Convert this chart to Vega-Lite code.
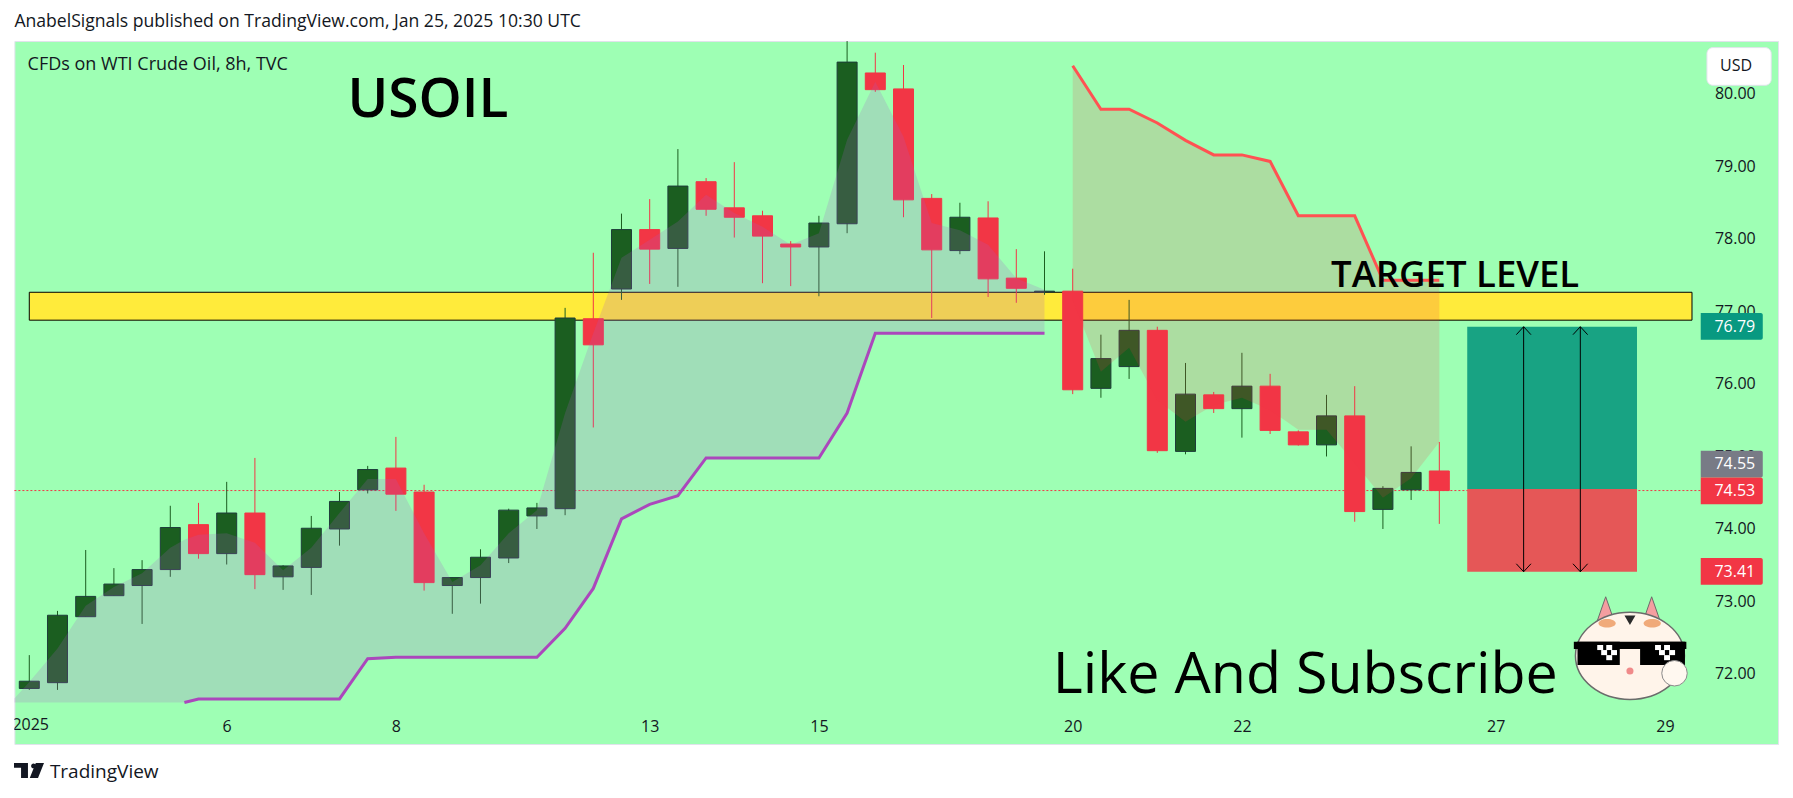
{
  "$schema": "https://vega.github.io/schema/vega-lite/v6.json",
  "title": {
    "text": "AnabelSignals published on TradingView.com, Jan 25, 2025 10:30 UTC",
    "anchor": "start", "frame": "group", "offset": 10,
    "fontSize": 17.6, "fontWeight": "normal", "color": "#131722", "font": "Open Sans"
  },
  "autosize": "none",
  "padding": {"left": 14.4, "top": 41, "right": 15, "bottom": 54},
  "width": 1763.6,
  "height": 703,
  "background": "#ffffff",
  "view": {"fill": "#9effb4", "stroke": "#e0e3eb"},
  "config": {"font": "Open Sans"},
  "datasets": {
    "candles": [
      {"i":0,"open":71.80,"close":71.90,"high":72.26,"low":71.78,"dir":"up"},
      {"i":1,"open":71.88,"close":72.81,"high":72.87,"low":71.78,"dir":"up"},
      {"i":2,"open":72.79,"close":73.07,"high":73.71,"low":72.79,"dir":"up"},
      {"i":3,"open":73.08,"close":73.24,"high":73.46,"low":73.08,"dir":"up"},
      {"i":4,"open":73.22,"close":73.44,"high":73.57,"low":72.69,"dir":"up"},
      {"i":5,"open":73.44,"close":74.02,"high":74.32,"low":73.34,"dir":"up"},
      {"i":6,"open":74.06,"close":73.66,"high":74.36,"low":73.59,"dir":"down"},
      {"i":7,"open":73.66,"close":74.22,"high":74.65,"low":73.51,"dir":"up"},
      {"i":8,"open":74.22,"close":73.37,"high":74.98,"low":73.17,"dir":"down"},
      {"i":9,"open":73.34,"close":73.49,"high":73.50,"low":73.16,"dir":"up"},
      {"i":10,"open":73.47,"close":74.01,"high":74.18,"low":73.09,"dir":"up"},
      {"i":11,"open":74.00,"close":74.38,"high":74.51,"low":73.77,"dir":"up"},
      {"i":12,"open":74.54,"close":74.82,"high":74.87,"low":74.49,"dir":"up"},
      {"i":13,"open":74.84,"close":74.48,"high":75.27,"low":74.25,"dir":"down"},
      {"i":14,"open":74.51,"close":73.26,"high":74.61,"low":73.15,"dir":"down"},
      {"i":15,"open":73.22,"close":73.33,"high":73.33,"low":72.83,"dir":"up"},
      {"i":16,"open":73.33,"close":73.61,"high":73.72,"low":72.97,"dir":"up"},
      {"i":17,"open":73.60,"close":74.26,"high":74.28,"low":73.53,"dir":"up"},
      {"i":18,"open":74.18,"close":74.29,"high":74.36,"low":74.00,"dir":"up"},
      {"i":19,"open":74.28,"close":76.91,"high":77.05,"low":74.19,"dir":"up"},
      {"i":20,"open":76.90,"close":76.54,"high":77.81,"low":75.40,"dir":"down"},
      {"i":21,"open":77.31,"close":78.13,"high":78.35,"low":77.16,"dir":"up"},
      {"i":22,"open":78.13,"close":77.86,"high":78.55,"low":77.38,"dir":"down"},
      {"i":23,"open":77.87,"close":78.73,"high":79.24,"low":77.34,"dir":"up"},
      {"i":24,"open":78.79,"close":78.41,"high":78.84,"low":78.32,"dir":"down"},
      {"i":25,"open":78.43,"close":78.30,"high":79.06,"low":78.02,"dir":"down"},
      {"i":26,"open":78.32,"close":78.04,"high":78.39,"low":77.39,"dir":"down"},
      {"i":27,"open":77.93,"close":77.89,"high":77.97,"low":77.35,"dir":"down"},
      {"i":28,"open":77.89,"close":78.22,"high":78.32,"low":77.21,"dir":"up"},
      {"i":29,"open":78.21,"close":80.44,"high":80.73,"low":78.08,"dir":"up"},
      {"i":30,"open":80.29,"close":80.06,"high":80.57,"low":80.03,"dir":"down"},
      {"i":31,"open":80.07,"close":78.54,"high":80.40,"low":78.30,"dir":"down"},
      {"i":32,"open":78.56,"close":77.85,"high":78.62,"low":76.91,"dir":"down"},
      {"i":33,"open":77.84,"close":78.30,"high":78.50,"low":77.79,"dir":"up"},
      {"i":34,"open":78.29,"close":77.45,"high":78.52,"low":77.20,"dir":"down"},
      {"i":35,"open":77.46,"close":77.32,"high":77.86,"low":77.12,"dir":"down"},
      {"i":36,"open":77.27,"close":77.28,"high":77.83,"low":77.23,"dir":"up"},
      {"i":37,"open":77.28,"close":75.92,"high":77.59,"low":75.86,"dir":"down"},
      {"i":38,"open":75.94,"close":76.35,"high":76.68,"low":75.81,"dir":"up"},
      {"i":39,"open":76.24,"close":76.74,"high":77.16,"low":76.07,"dir":"up"},
      {"i":40,"open":76.74,"close":75.08,"high":76.79,"low":75.05,"dir":"down"},
      {"i":41,"open":75.07,"close":75.86,"high":76.29,"low":75.03,"dir":"up"},
      {"i":42,"open":75.85,"close":75.66,"high":75.89,"low":75.60,"dir":"down"},
      {"i":43,"open":75.66,"close":75.97,"high":76.43,"low":75.26,"dir":"up"},
      {"i":44,"open":75.97,"close":75.36,"high":76.14,"low":75.31,"dir":"down"},
      {"i":45,"open":75.34,"close":75.16,"high":75.36,"low":75.15,"dir":"down"},
      {"i":46,"open":75.16,"close":75.56,"high":75.85,"low":75.00,"dir":"up"},
      {"i":47,"open":75.56,"close":74.24,"high":75.97,"low":74.10,"dir":"down"},
      {"i":48,"open":74.27,"close":74.56,"high":74.59,"low":74.00,"dir":"up"},
      {"i":49,"open":74.54,"close":74.78,"high":75.14,"low":74.40,"dir":"up"},
      {"i":50,"open":74.80,"close":74.53,"high":75.20,"low":74.07,"dir":"down"}
    ],
    "uptrend": [
      {"i":-0.528,"top":71.66,"floor":71.607},
      {"i":0,"top":71.89,"floor":71.607},
      {"i":1,"top":72.35,"floor":71.607},
      {"i":2,"top":72.94,"floor":71.607},
      {"i":3,"top":73.20,"floor":71.607},
      {"i":4,"top":73.39,"floor":71.607},
      {"i":5,"top":73.74,"floor":71.607},
      {"i":5.5,"top":73.85,"floor":71.607,"stop":71.607},
      {"i":6,"top":73.92,"floor":71.655,"stop":71.655},
      {"i":7,"top":73.94,"floor":71.655,"stop":71.655},
      {"i":8,"top":73.81,"floor":71.655,"stop":71.655},
      {"i":9,"top":73.43,"floor":71.655,"stop":71.655},
      {"i":10,"top":73.74,"floor":71.655,"stop":71.655},
      {"i":11,"top":74.22,"floor":71.655,"stop":71.655},
      {"i":12,"top":74.69,"floor":72.21,"stop":72.21},
      {"i":13,"top":74.69,"floor":72.23,"stop":72.23},
      {"i":14,"top":73.94,"floor":72.23,"stop":72.23},
      {"i":15,"top":73.27,"floor":72.23,"stop":72.23},
      {"i":16,"top":73.50,"floor":72.23,"stop":72.23},
      {"i":17,"top":73.94,"floor":72.23,"stop":72.23},
      {"i":18,"top":74.26,"floor":72.23,"stop":72.23},
      {"i":19,"top":75.60,"floor":72.63,"stop":72.63},
      {"i":20,"top":76.70,"floor":73.18,"stop":73.18},
      {"i":21,"top":77.74,"floor":74.14,"stop":74.14},
      {"i":22,"top":77.99,"floor":74.34,"stop":74.34},
      {"i":23,"top":78.24,"floor":74.46,"stop":74.46},
      {"i":24,"top":78.61,"floor":74.98,"stop":74.98},
      {"i":25,"top":78.36,"floor":74.98,"stop":74.98},
      {"i":26,"top":78.17,"floor":74.98,"stop":74.98},
      {"i":27,"top":77.92,"floor":74.98,"stop":74.98},
      {"i":28,"top":78.08,"floor":74.98,"stop":74.98},
      {"i":29,"top":79.37,"floor":75.60,"stop":75.60},
      {"i":30,"top":80.17,"floor":76.70,"stop":76.70},
      {"i":31,"top":79.41,"floor":76.70,"stop":76.70},
      {"i":32,"top":78.22,"floor":76.70,"stop":76.70},
      {"i":33,"top":78.12,"floor":76.70,"stop":76.70},
      {"i":34,"top":77.92,"floor":76.70,"stop":76.70},
      {"i":35,"top":77.46,"floor":76.70,"stop":76.70},
      {"i":36,"top":77.30,"floor":76.70,"stop":76.70}
    ],
    "downtrend": [
      {"i":37,"stop":80.39,"price":77.16},
      {"i":38,"stop":79.79,"price":76.17},
      {"i":39,"stop":79.79,"price":76.50},
      {"i":40,"stop":79.60,"price":75.78},
      {"i":41,"stop":79.36,"price":75.48},
      {"i":42,"stop":79.16,"price":75.71},
      {"i":43,"stop":79.16,"price":75.81},
      {"i":44,"stop":79.07,"price":75.64},
      {"i":45,"stop":78.32,"price":75.37},
      {"i":46,"stop":78.32,"price":75.37},
      {"i":47,"stop":78.32,"price":74.91},
      {"i":48,"stop":77.43,"price":74.43},
      {"i":49,"stop":77.43,"price":74.70},
      {"i":50,"stop":77.43,"price":75.20}
    ],
    "arrows": [
      {"part":"a","i":52.99,"v":76.79},{"part":"a","i":52.99,"v":73.41},
      {"part":"a-up","i":52.73,"v":76.68},{"part":"a-up","i":52.99,"v":76.79},{"part":"a-up","i":53.25,"v":76.68},
      {"part":"a-dn","i":52.73,"v":73.52},{"part":"a-dn","i":52.99,"v":73.41},{"part":"a-dn","i":53.25,"v":73.52},
      {"part":"b","i":55.0,"v":76.79},{"part":"b","i":55.0,"v":73.41},
      {"part":"b-up","i":54.74,"v":76.68},{"part":"b-up","i":55.0,"v":76.79},{"part":"b-up","i":55.26,"v":76.68},
      {"part":"b-dn","i":54.74,"v":73.52},{"part":"b-dn","i":55.0,"v":73.41},{"part":"b-dn","i":55.26,"v":73.52}
    ],
    "tags": [
      {"i":59.27,"i2":61.47,"hi":76.98,"lo":76.61,"mid":76.79,"label":"76.79","kind":"target"},
      {"i":59.27,"i2":61.47,"hi":75.08,"lo":74.71,"mid":74.90,"label":"74.55","kind":"entry"},
      {"i":59.27,"i2":61.47,"hi":74.71,"lo":74.34,"mid":74.53,"label":"74.53","kind":"last"},
      {"i":59.27,"i2":61.47,"hi":73.60,"lo":73.23,"mid":73.41,"label":"73.41","kind":"last"}
    ],
    "glasses": [
      {"part":"frame","i":54.77,"i2":58.76,"v":72.446,"v2":72.345},
      {"part":"frame","i":54.90,"i2":56.40,"v":72.446,"v2":72.124},
      {"part":"frame","i":57.12,"i2":58.71,"v":72.446,"v2":72.124},
      {"part":"glint","i":55.60,"i2":55.81,"v":72.40,"v2":72.33},
      {"part":"glint","i":55.92,"i2":56.13,"v":72.40,"v2":72.33},
      {"part":"glint","i":55.74,"i2":55.95,"v":72.33,"v2":72.26},
      {"part":"glint","i":56.09,"i2":56.30,"v":72.33,"v2":72.26},
      {"part":"glint","i":55.92,"i2":56.13,"v":72.26,"v2":72.19},
      {"part":"glint","i":57.65,"i2":57.86,"v":72.40,"v2":72.33},
      {"part":"glint","i":57.97,"i2":58.18,"v":72.40,"v2":72.33},
      {"part":"glint","i":57.79,"i2":58.00,"v":72.33,"v2":72.26},
      {"part":"glint","i":58.15,"i2":58.36,"v":72.33,"v2":72.26},
      {"part":"glint","i":57.97,"i2":58.18,"v":72.26,"v2":72.19}
    ]
  },
  "encoding": {
    "x": {
      "field": "i", "type": "quantitative", "title": null,
      "scale": {"domain": [-0.528, 62.01], "nice": false, "zero": false, "padding": 0},
      "axis": {
        "title": null, "grid": false, "domain": false, "ticks": false,
        "values": [7, 13, 22, 28, 37, 43, 52, 58],
        "labelExpr": "{'7':'6','13':'8','22':'13','28':'15','37':'20','43':'22','52':'27','58':'29'}[datum.value]",
        "labelFontSize": 16, "labelColor": "#131722", "labelPadding": 0,
        "labelOverlap": false, "offset": -26
      }
    },
    "y": {
      "field": "v", "type": "quantitative", "title": null,
      "scale": {"domain": [71.034, 80.731], "nice": false, "zero": false},
      "axis": {
        "title": null, "grid": false, "domain": false, "ticks": false, "orient": "right",
        "values": [72, 73, 74, 75, 76, 77, 78, 79, 80],
        "format": ".2f", "labelFontSize": 16, "labelColor": "#131722",
        "labelPadding": 0, "labelAlign": "left", "labelOverlap": false, "offset": -63.6
      }
    }
  },
  "layer": [
    {
      "data": {"values": [{"i": 0, "i2": 58.96, "v": 77.265, "v2": 76.88}]},
      "mark": {"type": "rect", "fill": "#ffeb3b", "stroke": "#000000", "strokeWidth": 1},
      "encoding": {"x2": {"field": "i2"}, "y2": {"field": "v2"}}
    },
    {
      "data": {"values": [{"i": -0.528, "i2": 59.27, "v": 74.53}]},
      "mark": {"type": "rule", "color": "#f23645", "strokeDash": [2, 2], "strokeWidth": 1},
      "encoding": {"x2": {"field": "i2"}}
    },
    {
      "data": {"name": "candles"},
      "mark": {"type": "rule", "strokeWidth": 1},
      "encoding": {
        "y": {"field": "high", "type": "quantitative", "title": null},
        "y2": {"field": "low"},
        "color": {"field": "dir", "type": "nominal", "legend": null,
          "scale": {"domain": ["up", "down", "target", "entry", "last", "frame", "glint"], "range": ["#1b5e20", "#f23645", "#089981", "#787b86", "#f23645", "#000000", "#ffffff"]}}
      }
    },
    {
      "data": {"name": "candles"},
      "mark": {"type": "bar", "size": 20, "orient": "vertical", "strokeWidth": 1},
      "encoding": {
        "y": {"field": "open", "type": "quantitative", "title": null},
        "y2": {"field": "close"},
        "color": {"field": "dir", "type": "nominal", "legend": null},
        "stroke": {"field": "dir", "type": "nominal", "legend": null,
          "scale": {"domain": ["up", "down"], "range": ["#1e3d3a", "#f23645"]}}
      }
    },
    {
      "data": {"name": "uptrend"},
      "mark": {"type": "area", "color": "#ab5ac8", "opacity": 0.2},
      "encoding": {
        "y": {"field": "top", "type": "quantitative", "title": null},
        "y2": {"field": "floor"}
      }
    },
    {
      "data": {"name": "downtrend"},
      "mark": {"type": "area", "color": "#f23645", "opacity": 0.17},
      "encoding": {
        "y": {"field": "stop", "type": "quantitative", "title": null},
        "y2": {"field": "price"}
      }
    },
    {
      "data": {"name": "uptrend"},
      "mark": {"type": "line", "color": "#ab47bc", "strokeWidth": 3},
      "encoding": {"y": {"field": "stop", "type": "quantitative", "title": null}}
    },
    {
      "data": {"name": "downtrend"},
      "mark": {"type": "line", "color": "#ff5252", "strokeWidth": 3},
      "encoding": {"y": {"field": "stop", "type": "quantitative", "title": null}}
    },
    {
      "data": {"values": [{"i": 50.99, "i2": 57.01, "v": 76.79, "v2": 74.55}]},
      "mark": {"type": "rect", "fill": "#18a383"},
      "encoding": {"x2": {"field": "i2"}, "y2": {"field": "v2"}}
    },
    {
      "data": {"values": [{"i": 50.99, "i2": 57.01, "v": 74.55, "v2": 73.41}]},
      "mark": {"type": "rect", "fill": "#e55757"},
      "encoding": {"x2": {"field": "i2"}, "y2": {"field": "v2"}}
    },
    {
      "data": {"name": "arrows"},
      "mark": {"type": "line", "color": "#000000", "strokeWidth": 1},
      "encoding": {"detail": {"field": "part"}, "order": {"field": "i"}}
    },
    {
      "data": {"name": "tags"},
      "mark": {"type": "rect", "cornerRadiusTopRight": 2, "cornerRadiusBottomRight": 2},
      "encoding": {
        "x2": {"field": "i2"},
        "y": {"field": "hi", "type": "quantitative", "title": null},
        "y2": {"field": "lo"},
        "color": {"field": "kind", "type": "nominal", "legend": null}
      }
    },
    {
      "data": {"name": "tags"},
      "mark": {"type": "text", "color": "#ffffff", "fontSize": 16, "align": "center", "baseline": "middle"},
      "encoding": {
        "x": {"datum": 60.48, "type": "quantitative", "title": null},
        "y": {"field": "mid", "type": "quantitative", "title": null},
        "text": {"field": "label"}
      }
    },
    {
      "data": {"values": [{"i": 59.49, "i2": 61.77, "v": 80.64, "v2": 80.12}]},
      "mark": {"type": "rect", "fill": "#ffffff", "stroke": "#e0e3eb", "cornerRadius": 6},
      "encoding": {"x2": {"field": "i2"}, "y2": {"field": "v2"}}
    },
    {
      "data": {"values": [{"i": 60.52, "v": 80.39, "t": "USD"}]},
      "mark": {"type": "text", "color": "#131722", "fontSize": 16, "baseline": "middle"},
      "encoding": {"text": {"field": "t"}}
    },
    {
      "data": {"values": [{"i": 0.05, "v": 71.234, "t": "2025"}]},
      "mark": {"type": "text", "color": "#131722", "fontSize": 16, "baseline": "alphabetic", "clip": true},
      "encoding": {"text": {"field": "t"}}
    },
    {
      "data": {"values": [{"i": -0.06, "v": 80.33, "t": "CFDs on WTI Crude Oil, 8h, TVC"}]},
      "mark": {"type": "text", "color": "#131722", "fontSize": 18, "baseline": "alphabetic", "align": "left"},
      "encoding": {"text": {"field": "t"}}
    },
    {
      "data": {"values": [{"i": 11.28, "v": 79.68, "t": "USOIL"}]},
      "mark": {"type": "text", "color": "#000000", "fontSize": 55, "fontWeight": 600, "baseline": "alphabetic", "align": "left"},
      "encoding": {"text": {"field": "t"}}
    },
    {
      "data": {"values": [{"i": 46.16, "v": 77.34, "t": "TARGET LEVEL"}]},
      "mark": {"type": "text", "color": "#000000", "fontSize": 36.5, "fontWeight": 600, "baseline": "alphabetic", "align": "left"},
      "encoding": {"text": {"field": "t"}}
    },
    {
      "data": {"values": [{"i": 36.29, "v": 71.74, "t": "Like And Subscribe"}]},
      "mark": {"type": "text", "color": "#000000", "fontSize": 57.4, "baseline": "alphabetic", "align": "left"},
      "encoding": {"text": {"field": "t"}}
    },
    {
      "data": {"values": [{"i": 55.9, "v": 72.72}, {"i": 57.53, "v": 72.72}]},
      "mark": {"type": "point", "shape": "M0,-1L.7,1H-.7Z", "size": 2500, "filled": true, "fill": "#f49ea0", "stroke": "#6b6b6b", "strokeWidth": 1, "opacity": 1}
    },
    {
      "data": {"values": [{"i": 56.76, "v": 72.25}]},
      "mark": {"type": "point", "shape": "M-1,0A1,.8 0 1,1 1,0A1,.8 0 1,1 -1,0Z", "size": 11881, "filled": true, "fill": "#fff4ea", "stroke": "#6b6b6b", "strokeWidth": 1.5, "opacity": 1}
    },
    {
      "data": {"values": [{"i": 57.55, "v": 72.7}, {"i": 55.95, "v": 72.7}]},
      "mark": {"type": "point", "shape": "M-1,0A1,.5 0 1,1 1,0A1,.5 0 1,1 -1,0Z", "size": 300, "filled": true, "fill": "#e98a4a", "opacity": 0.7}
    },
    {
      "data": {"values": [{"i": 56.76, "v": 72.74}]},
      "mark": {"type": "point", "shape": "triangle-down", "size": 120, "filled": true, "fill": "#2a2a2a", "opacity": 1}
    },
    {
      "data": {"name": "glasses"},
      "mark": {"type": "rect"},
      "encoding": {
        "x2": {"field": "i2"},
        "y2": {"field": "v2"},
        "color": {"field": "part", "type": "nominal", "legend": null}
      }
    },
    {
      "data": {"values": [{"i": 56.76, "v": 72.04}]},
      "mark": {"type": "point", "shape": "circle", "size": 50, "filled": true, "fill": "#f08a8a", "opacity": 1}
    },
    {
      "data": {"values": [{"i": 58.34, "v": 72.01}]},
      "mark": {"type": "point", "shape": "circle", "size": 650, "filled": true, "fill": "#fff8f0", "stroke": "#8a8a8a", "strokeWidth": 1, "opacity": 1}
    },
    {
      "data": {"values": [{"i": -0.01, "v": 70.67}]},
      "mark": {"type": "point", "shape": "M-1,-.5H-.07V.5H-.53V-.17H-1ZM.45,-.5H1L.6,.5H.05ZM.46,-.3A.16,.16 0 1,1 .14,-.3A.16,.16 0 1,1 .46,-.3Z", "size": 900, "filled": true, "fill": "#131722", "opacity": 1}
    },
    {
      "data": {"values": [{"i": 0.73, "v": 70.57, "t": "TradingView"}]},
      "mark": {"type": "text", "color": "#131722", "fontSize": 19, "fontWeight": 500, "baseline": "alphabetic", "align": "left"},
      "encoding": {"text": {"field": "t"}}
    }
  ]
}
